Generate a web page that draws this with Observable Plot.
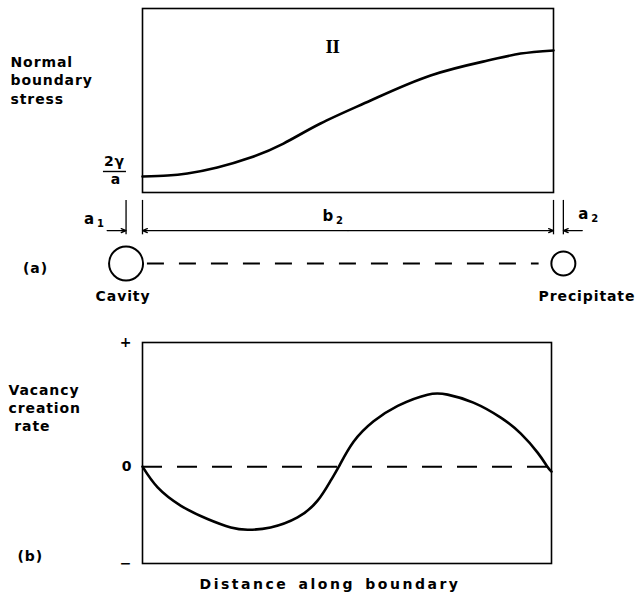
<!DOCTYPE html>
<html>
<head>
<meta charset="utf-8">
<script src="https://cdn.jsdelivr.net/npm/d3@7"></script>
<script src="https://cdn.jsdelivr.net/npm/@observablehq/plot@0.6"></script>
<style>
  body { margin: 0; background: #fff; }
  #fig { position: relative; width: 636px; height: 600px; background: #fff; }
  #fig svg { position: absolute; left: 0; }
</style>
</head>
<body>
<div id="fig"></div>
<script>
// (a) normal boundary stress between the cavity (left) and the precipitate (right)
const stressDistance = [0, 6.1, 10.9, 18.2, 26.3, 34.3, 43.3, 55.5, 70.1, 84.0, 92.0, 100];
const stressValue    = [0.87, 0.92, 1.03, 1.36, 1.90, 2.66, 3.75, 5.0, 6.36, 7.17, 7.55, 7.72];

// (b) vacancy creation rate along the same boundary
const rateDistance = [0, 3.7, 9.4, 15.9, 21.6, 25.7, 31.3, 37.9, 42.8, 46.0, 48.0, 51.6, 56.5, 62.4, 69.7, 74.6, 80.9, 87.6, 92.5, 96.6, 99.0, 100];
const rateValue    = [0, -0.167, -0.315, -0.422, -0.49, -0.508, -0.49, -0.409, -0.274, -0.113, 0, 0.2, 0.365, 0.49, 0.58, 0.58, 0.516, 0.395, 0.266, 0.113, 0, -0.04];
const rateTicks      = [1, 0, -0.78];
const rateTickLabels = ["+", "0", "\u2212"];

// schematic: cavity half-size a1 and precipitate half-size a2, in boundary-distance units
const a1 = 4.0;
const a2 = 2.4;

const stress = stressDistance.map((d, i) => ({distance: d, stress: stressValue[i]}));
const rate = rateDistance.map((d, i) => ({distance: d, rate: rateValue[i]}));

// rows of the schematic drawn beneath the stress panel (below the zero of the stress scale)
const rowTickTop = -0.43, rowTickBottom = -2.3, rowDim = -2.07, rowBoundary = -3.86;

const baseStyle = {
  fontFamily: "'DejaVu Sans', sans-serif",
  fontWeight: "bold",
  fontSize: "14px",
  letterSpacing: "0.9px",
  color: "#000",
  background: "transparent",
  overflow: "visible"
};

const panelA = Plot.plot({
  width: 636,
  height: 310,
  marginTop: 8,
  marginLeft: 142,
  marginRight: 83,
  marginBottom: 118,
  style: baseStyle,
  x: {domain: [0, 100], axis: null},
  y: {domain: [0, 10], axis: null},
  marks: [
    Plot.frame({stroke: "#000", strokeWidth: 1.6}),
    Plot.line(stress, {x: "distance", y: "stress", curve: "natural", stroke: "#000", strokeWidth: 2.6}),
    Plot.text(["II"], {x: 46.2, y: 7.9, fontFamily: "'Liberation Serif', serif", fontSize: 19, fontWeight: "bold"}),
    Plot.text(["Normal\nboundary\nstress"], {frameAnchor: "top-left", dx: -132, dy: 45, textAnchor: "start", lineAnchor: "top", lineHeight: 1.32}),
    // value at the cavity edge: 2γ/a
    Plot.text(["2\u03b3"], {x: 0, y: stressValue[0], dx: -28, dy: -15}),
    Plot.ruleY([stressValue[0]], {x1: -9.5, x2: -3.9, dy: -5, stroke: "#000", strokeWidth: 1.4}),
    Plot.text(["a"], {x: 0, y: stressValue[0], dx: -26.5, dy: 3}),
    // dimension lines a1, b2, a2
    Plot.ruleX([-a1, 0, 100, 100 + a2], {y1: rowTickTop, y2: rowTickBottom, stroke: "#000", strokeWidth: 1.3}),
    Plot.arrow([
      {x1: 50, x2: 0}, {x1: 50, x2: 100},
      {x1: -a1 - 4.6, x2: -a1}, {x1: 100 + a2 + 4.6, x2: 100 + a2}
    ], {x1: "x1", x2: "x2", y1: rowDim, y2: rowDim, headLength: 6, headAngle: 45, stroke: "#000", strokeWidth: 1.3}),
    Plot.text(["a"], {x: -a1, y: rowDim, textAnchor: "start", dx: -42, dy: -11, fontSize: 15}),
    Plot.text(["1"], {x: -a1, y: rowDim, textAnchor: "start", dx: -29, dy: -7, fontSize: 10}),
    Plot.text(["b"], {x: 50, y: rowDim, textAnchor: "start", dx: -25.5, dy: -14, fontSize: 15}),
    Plot.text(["2"], {x: 50, y: rowDim, textAnchor: "start", dx: -12, dy: -10, fontSize: 10}),
    Plot.text(["a"], {x: 100 + a2, y: rowDim, textAnchor: "start", dx: 15, dy: -16, fontSize: 15}),
    Plot.text(["2"], {x: 100 + a2, y: rowDim, textAnchor: "start", dx: 28, dy: -12, fontSize: 10}),
    // the boundary between cavity and precipitate
    Plot.ruleY([rowBoundary], {x1: 1.2, x2: 96.5, stroke: "#000", strokeWidth: 2, strokeDasharray: "17,15"}),
    Plot.dot([-a1], {x: d => d, y: rowBoundary, r: 17, stroke: "#000", strokeWidth: 2, fill: "#fff"}),
    Plot.dot([100 + a2], {x: d => d, y: rowBoundary, r: 12, stroke: "#000", strokeWidth: 2, fill: "#fff"}),
    Plot.text(["Cavity"], {x: -a1, y: rowBoundary, dx: -3, dy: 33}),
    Plot.text(["Precipitate"], {x: 100 + a2, y: rowBoundary, textAnchor: "end", dx: 72, dy: 33}),
    Plot.text(["(a)"], {x: -a1, y: rowBoundary, textAnchor: "start", dx: -103, dy: 5})
  ]
});

const panelB = Plot.plot({
  width: 636,
  height: 290,
  marginTop: 32,
  marginLeft: 142,
  marginRight: 85,
  marginBottom: 37,
  style: baseStyle,
  x: {domain: [0, 100], axis: null},
  y: {
    domain: [-0.78, 1],
    ticks: rateTicks,
    tickFormat: d => rateTickLabels[rateTicks.indexOf(d)],
    tickSize: 0,
    tickPadding: 10,
    label: null
  },
  marks: [
    Plot.frame({stroke: "#000", strokeWidth: 1.6}),
    Plot.ruleY([0], {stroke: "#000", strokeWidth: 2, strokeDasharray: "20,15"}),
    Plot.line(rate, {x: "distance", y: "rate", curve: "natural", stroke: "#000", strokeWidth: 2.6}),
    Plot.text(["Vacancy\ncreation\n\u00a0rate"], {frameAnchor: "top-left", dx: -134, dy: 40, textAnchor: "start", lineAnchor: "top", lineHeight: 1.29}),
    Plot.text(["(b)"], {frameAnchor: "bottom-left", dx: -125, dy: -3, textAnchor: "start"}),
    Plot.text(["Distance along boundary"], {frameAnchor: "bottom", dx: -17, dy: 25})
  ]
});

const fig = document.getElementById("fig");
panelA.style.top = "0px";
panelB.style.top = "310px";
fig.appendChild(panelA);
fig.appendChild(panelB);

// spacing tweaks for individual labels
d3.select(panelA).selectAll("text").filter(function() { return this.textContent === "II"; })
  .style("letter-spacing", "-0.5px");
d3.select(panelB).selectAll("text").filter(function() { return this.textContent === "Distance along boundary"; })
  .style("letter-spacing", "2.5px").style("word-spacing", "3px");
</script>
</body>
</html>
